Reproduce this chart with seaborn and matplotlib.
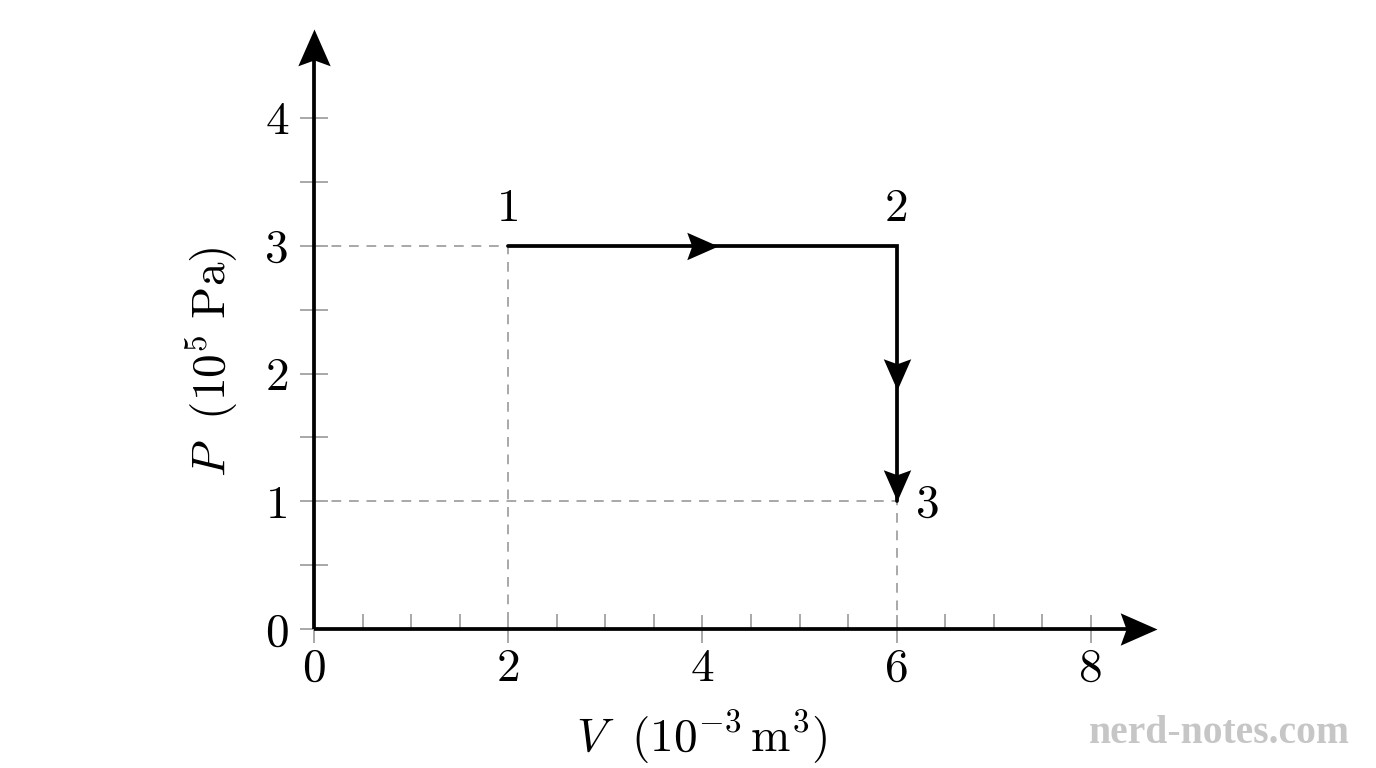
import numpy as np
import matplotlib
matplotlib.use("Agg")
import matplotlib.pyplot as plt
import seaborn as sns
from matplotlib.markers import MarkerStyle
from matplotlib.path import Path
from matplotlib.transforms import Affine2D

# ── Data ──────────────────────────────────────────────────────────────────────
state_labels = ["1", "2", "3"]
state_V = [2, 6, 6]          # 10^-3 m^3
state_P = [3, 3, 1]          # 10^5 Pa

x_major = [0, 2, 4, 6, 8]
y_major = [0, 1, 2, 3, 4]

# arrowheads along the process (tip position, direction in degrees)
flow_V = [4.16, 6, 6]
flow_P = [3, 1.87, 1.0]
flow_dir = [0, -90, -90]

X_MAX, Y_MAX = 8.68, 4.70

# ── Style ─────────────────────────────────────────────────────────────────────
sns.set_theme(style="white")
plt.rcParams["font.family"] = ["cmr10", "DejaVu Serif"]
plt.rcParams["mathtext.fontset"] = "cm"
plt.rcParams["axes.formatter.use_mathtext"] = True
plt.rcParams["text.color"] = "black"
plt.rcParams["axes.labelcolor"] = "black"
plt.rcParams["xtick.labelcolor"] = "black"
plt.rcParams["ytick.labelcolor"] = "black"

FS = 34
GRAY = "#a8a8a8"
LW = 2.7

def stealth(angle):
    verts = [(0, 0), (-1, -0.44), (-0.84, 0), (-1, 0.44), (0, 0)]
    codes = [Path.MOVETO, Path.LINETO, Path.LINETO, Path.LINETO, Path.CLOSEPOLY]
    return MarkerStyle(Path(verts, codes), transform=Affine2D().rotate_deg(angle))

fig = plt.figure(figsize=(13.76, 7.68), dpi=100)
ax = fig.add_axes([314 / 1376, 139 / 768, X_MAX * 97.1 / 1376, Y_MAX * 127.75 / 768])
ax.set_xlim(0, X_MAX)
ax.set_ylim(0, Y_MAX)
for s in ax.spines.values():
    s.set_visible(False)

# dashed guide lines
for v, p in zip([state_V[0], state_V[2]], [state_P[0], state_P[2]]):
    sns.lineplot(x=[0, v, v], y=[p, p, 0], sort=False, estimator=None, ax=ax,
                 color=GRAY, lw=1.4, dashes=False, linestyle=(0, (5, 4)))

# axes with arrows
ax.plot([0, X_MAX - 0.1], [0, 0], color="black", lw=LW, clip_on=False,
        solid_capstyle="butt", zorder=4)
ax.plot([0, 0], [0, Y_MAX - 0.1], color="black", lw=LW, clip_on=False,
        solid_capstyle="butt", zorder=4)
ax.plot(X_MAX, 0, marker=stealth(0), ms=53, color="black", mew=0, clip_on=False, zorder=5)
ax.plot(0, Y_MAX, marker=stealth(90), ms=53, color="black", mew=0, clip_on=False, zorder=5)

# process path
sns.lineplot(x=state_V, y=state_P, sort=False, estimator=None, ax=ax,
             color="black", lw=LW, zorder=5)
ax.lines[-1].set_solid_joinstyle("miter")
for v, p, d in zip(flow_V, flow_P, flow_dir):
    ax.plot(v, p, marker=stealth(d), ms=45, color="black", mew=0, zorder=6)

# state labels
ax.text(state_V[0], state_P[0] + 0.12, state_labels[0], fontsize=FS, ha="center", va="bottom")
ax.text(state_V[1], state_P[1] + 0.12, state_labels[1], fontsize=FS, ha="center", va="bottom")
ax.text(state_V[2] + 0.2, state_P[2] - 0.03, state_labels[2], fontsize=FS, ha="left", va="center")

# ticks
ax.set_xticks(x_major)
ax.set_xticklabels([str(t) for t in x_major])
ax.set_xticks([t for t in np.arange(0.5, 8.01, 0.5) if t not in x_major], minor=True)
ax.set_yticks(y_major)
ax.set_yticklabels([str(t) for t in y_major])
ax.set_yticks(np.arange(0.5, 4.0, 1.0), minor=True)
ax.tick_params(axis="x", which="major", direction="inout", length=20, width=1.4,
               color=GRAY, labelsize=FS, pad=4, bottom=True)
ax.tick_params(axis="x", which="minor", direction="in", length=10.5, width=1.4,
               color=GRAY, bottom=True)
ax.tick_params(axis="y", which="both", direction="inout", length=20, width=1.4,
               color=GRAY, labelsize=FS, pad=8, left=True)

ax.set_xlabel(r"$V\ \ (10^{-3}\,\mathrm{m}^3)$", fontsize=FS)
ax.xaxis.set_label_coords((703 - 314) / 845, (629 - 708) / 600)
ax.set_ylabel(r"$P\ \ (10^5\ \mathrm{Pa})$", fontsize=FS)
ax.yaxis.set_label_coords((240 - 314) / 845, (629 - 362) / 600)

fig.text(1350 / 1376, 1 - 743 / 768, "nerd-notes.com", fontsize=28.5, fontweight="bold",
         family="Liberation Serif", color="#c6c6c6", ha="right", va="baseline")

fig.savefig("out.png", dpi=100)
